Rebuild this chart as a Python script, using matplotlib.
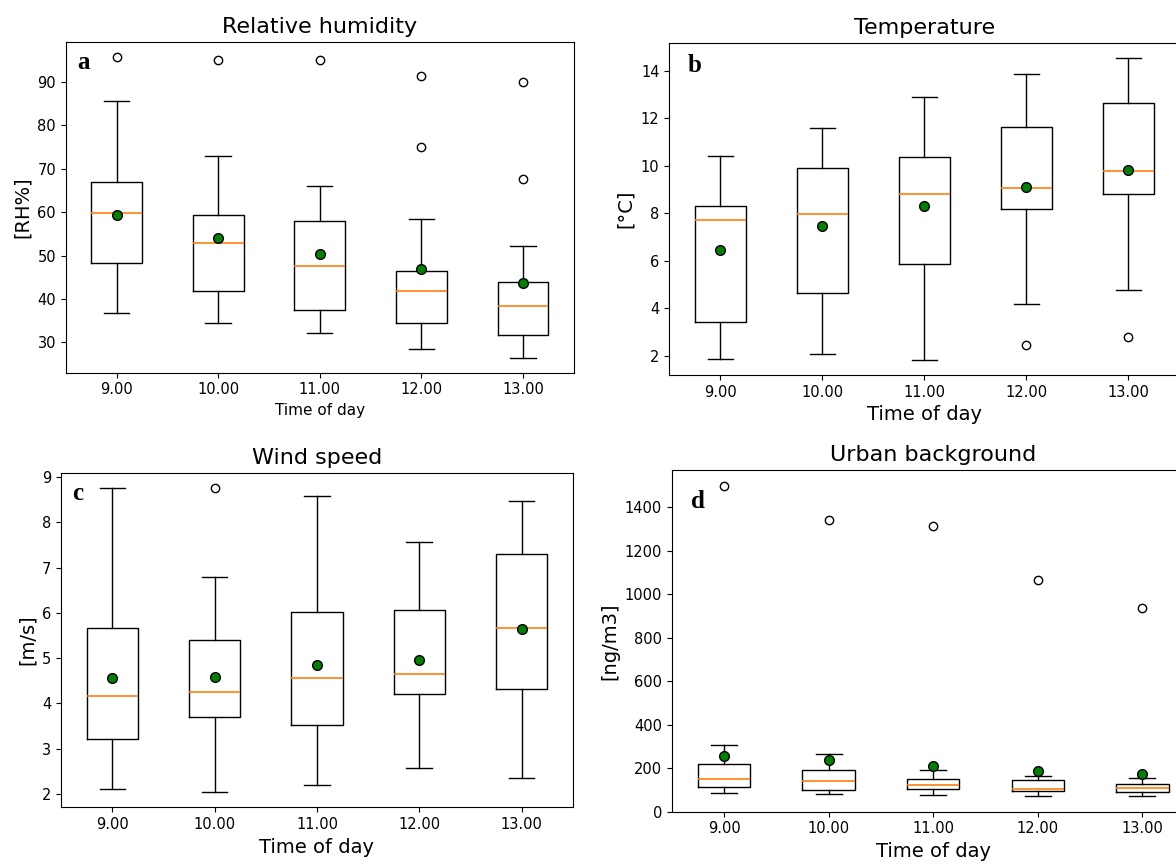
import matplotlib
matplotlib.use('Agg')
import matplotlib.pyplot as plt
from matplotlib.ticker import MultipleLocator

hours = ['9.00', '10.00', '11.00', '12.00', '13.00']

# box statistics, one list per quantity, one value per hour
rh_whislo = [36.7, 34.6, 32.1, 28.6, 26.5]
rh_q1 = [48.2, 41.9, 37.4, 34.6, 31.8]
rh_med = [59.7, 53.0, 47.5, 41.9, 38.4]
rh_q3 = [67.0, 59.3, 57.9, 46.4, 43.9]
rh_whishi = [85.5, 73.0, 66.0, 58.3, 52.3]
rh_mean = [59.3, 54.1, 50.3, 47.0, 43.6]
rh_fliers = [[95.6], [95.0], [95.0], [91.4, 75.0], [90.0, 67.7]]

temp_whislo = [1.87, 2.07, 1.82, 4.19, 4.77]
temp_q1 = [3.42, 4.64, 5.86, 8.16, 8.81]
temp_med = [7.71, 7.97, 8.82, 9.06, 9.76]
temp_q3 = [8.29, 9.89, 10.35, 11.63, 12.65]
temp_whishi = [10.42, 11.57, 12.91, 13.87, 14.52]
temp_mean = [6.43, 7.44, 8.29, 9.12, 9.83]
temp_fliers = [[], [], [], [2.46], [2.77]]

wind_whislo = [2.10, 2.04, 2.20, 2.58, 2.34]
wind_q1 = [3.22, 3.70, 3.53, 4.20, 4.32]
wind_med = [4.17, 4.24, 4.55, 4.65, 5.67]
wind_q3 = [5.67, 5.40, 6.01, 6.07, 7.30]
wind_whishi = [8.76, 6.80, 8.59, 7.57, 8.46]
wind_mean = [4.55, 4.59, 4.85, 4.96, 5.64]
wind_fliers = [[], [8.76], [], [], []]

ub_whislo = [85, 83, 77, 71, 71]
ub_q1 = [114, 98, 105, 95, 89]
ub_med = [151, 141, 123, 105, 111]
ub_q3 = [221, 194, 151, 144, 129]
ub_whishi = [307, 264, 194, 166, 157]
ub_mean = [258, 237, 209, 186, 172]
ub_fliers = [[1500], [1340], [1312], [1066], [937]]


def make_stats(lo, q1, med, q3, hi, mean, fliers):
    return [
        {'whislo': lo[i], 'q1': q1[i], 'med': med[i], 'q3': q3[i],
         'whishi': hi[i], 'mean': mean[i], 'fliers': fliers[i],
         'label': hours[i]}
        for i in range(len(hours))
    ]


panels = [
    # title, ylabel, letter, stats, axes rect, letter pos, xlabel size, y step
    ('Relative humidity', '[RH%]', 'a',
     make_stats(rh_whislo, rh_q1, rh_med, rh_q3, rh_whishi, rh_mean, rh_fliers),
     [0.0559, 0.5696, 0.4320, 0.3815], (0.022, 0.918), 11, 10),
    ('Temperature', '[°C]', 'b',
     make_stats(temp_whislo, temp_q1, temp_med, temp_q3, temp_whishi, temp_mean, temp_fliers),
     [0.5691, 0.5670, 0.4337, 0.3830], (0.037, 0.913), 14, 2),
    ('Wind speed', '[m/s]', 'c',
     make_stats(wind_whislo, wind_q1, wind_med, wind_q3, wind_whishi, wind_mean, wind_fliers),
     [0.0521, 0.0678, 0.4349, 0.3864], (0.0215, 0.919), 14, 1),
    ('Urban background', '[ng/m3]', 'd',
     make_stats(ub_whislo, ub_q1, ub_med, ub_q3, ub_whishi, ub_mean, ub_fliers),
     [0.5712, 0.0627, 0.4447, 0.3946], (0.036, 0.889), 14, 200),
]

fig = plt.figure(figsize=(11.76, 8.66), dpi=100)

for title, ylabel, letter, stats, rect, lpos, xl_size, ystep in panels:
    ax = fig.add_axes(rect)
    ax.bxp(stats,
           showmeans=True,
           widths=0.5,
           medianprops=dict(color='#ff7f0e', linewidth=1.2),
           meanprops=dict(marker='o', markerfacecolor='green',
                          markeredgecolor='black', markersize=7),
           flierprops=dict(marker='o', markerfacecolor='none',
                           markeredgecolor='black', markersize=6))
    ax.set_xlim(0.5, 5.5)
    ax.yaxis.set_major_locator(MultipleLocator(ystep))
    if letter == 'd':
        ax.set_ylim(bottom=0)
    ax.set_title(title, fontsize=16, pad=6.5)
    ax.set_xlabel('Time of day', fontsize=xl_size)
    ax.set_ylabel(ylabel, fontsize=14)
    ax.tick_params(labelsize=10.5)
    ax.text(lpos[0], lpos[1], letter, transform=ax.transAxes,
            fontsize=18, fontweight='bold', family='Liberation Serif',
            va='baseline', ha='left')

fig.savefig('out.png', dpi=100)
